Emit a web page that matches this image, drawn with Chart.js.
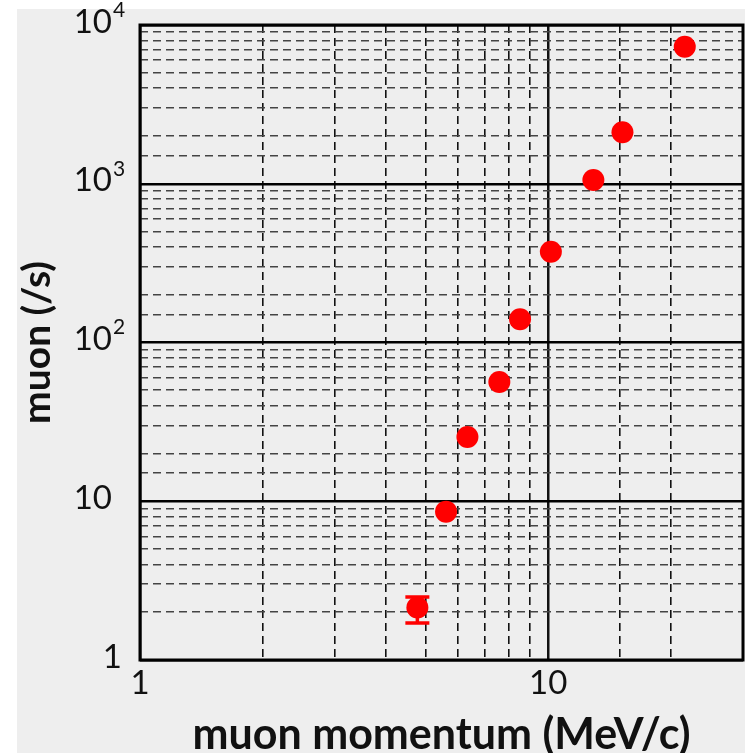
<!DOCTYPE html>
<html>
<head>
<meta charset="utf-8">
<script src="https://cdn.jsdelivr.net/npm/chart.js@4.4.1/dist/chart.umd.min.js"></script>
<style>
  html, body { margin: 0; padding: 0; background: #fff; }
  #wrap { width: 745px; height: 753px; }
</style>
</head>
<body>
<div id="wrap"><canvas id="muonChart"></canvas></div>
<script>
// muon momentum (MeV/c) and measured rate (/s)
var momentum = [4.78, 5.62, 6.34, 7.59, 8.53, 10.15, 12.9, 15.2, 21.6];
var rate = [2.14, 8.6, 25.4, 56.4, 140, 373, 1056, 2109, 7300];
var rateErrLow = [1.71, null, null, null, null, null, null, null, null];
var rateErrHigh = [2.49, null, null, null, null, null, null, null, null];

var xTickValues = [1, 10];
var xTickLabels = ['1', '10'];
var yTickValues = [1, 10, 100, 1000, 10000];
var yTickBase = ['1', '10', '10', '10', '10'];
var yTickExp = ['', '', '2', '3', '4'];

function isDecade(v) {
    var l = Math.log10(v);
    return Math.abs(l - Math.round(l)) < 1e-6;
}

var points = [];
for (var i = 0; i < momentum.length; i++) {
    points.push({x: momentum[i], y: rate[i]});
}

var panelPlugin = {
    id: 'panel',
    beforeDraw: function(chart) {
        var ctx = chart.ctx;
        ctx.save();
        ctx.fillStyle = '#eeeeee';
        ctx.fillRect(17, 9, chart.width - 17, chart.height - 9);
        ctx.restore();
    },
    beforeDatasetsDraw: function(chart) {
        var ctx = chart.ctx, a = chart.chartArea;
        ctx.save();
        ctx.strokeStyle = '#000';
        ctx.lineWidth = 3;
        ctx.strokeRect(a.left, a.top, a.right - a.left, a.bottom - a.top);
        ctx.restore();
    },
    afterDatasetsDraw: function(chart) {
        var ctx = chart.ctx;
        var xs = chart.scales.x, ys = chart.scales.y;
        ctx.save();
        ctx.strokeStyle = '#ff0000';
        ctx.lineWidth = 3.5;
        for (var i = 0; i < momentum.length; i++) {
            if (rateErrLow[i] == null) continue;
            var px = xs.getPixelForValue(momentum[i]);
            var lo = ys.getPixelForValue(rateErrLow[i]);
            var hi = ys.getPixelForValue(rateErrHigh[i]);
            ctx.beginPath();
            ctx.moveTo(px, lo); ctx.lineTo(px, hi);
            ctx.moveTo(px - 12, lo); ctx.lineTo(px + 12, lo);
            ctx.moveTo(px - 12, hi); ctx.lineTo(px + 12, hi);
            ctx.stroke();
        }
        // y tick labels with exponents
        ctx.fillStyle = '#111';
        ctx.textBaseline = 'middle';
        var left = chart.chartArea.left;
        for (var j = 0; j < yTickValues.length; j++) {
            var py = ys.getPixelForValue(yTickValues[j]);
            ctx.font = '33px Lato';
            ctx.textAlign = 'right';
            if (yTickExp[j] === '' && yTickBase[j] === '1') {
                ctx.fillText(yTickBase[j], left - 18, py - 3);
            } else {
                ctx.fillText(yTickBase[j], left - 28, py - 3);
            }
            if (yTickExp[j] !== '') {
                ctx.font = '21px Lato';
                ctx.textAlign = 'left';
                ctx.fillText(yTickExp[j], left - 27, py - 15);
            }
        }
        ctx.restore();
    }
};

var canvas = document.getElementById('muonChart');
var muonChart = new Chart(canvas, {
    type: 'scatter',
    data: {
        datasets: [{
            label: 'muon',
            data: points,
            backgroundColor: '#ff0000',
            borderWidth: 0,
            pointRadius: 11,
            pointHoverRadius: 11
        }]
    },
    options: {
        responsive: true,
        maintainAspectRatio: false,
        animation: false,
        events: [],
        layout: { autoPadding: false, padding: { top: 25, right: 2, left: 0, bottom: 0 } },
        plugins: { legend: { display: false }, tooltip: { enabled: false } },
        scales: {
            x: {
                type: 'logarithmic',
                min: 1,
                max: 30,
                afterFit: function(scale) {
                    scale.height = 93;
                    scale.paddingLeft = 0;
                    scale.paddingRight = 0;
                },
                grid: {
                    drawTicks: false,
                    color: '#111',
                    lineWidth: function(c) { return c.tick && isDecade(c.tick.value) ? 2.5 : 1.6; }
                },
                border: {
                    display: false,
                    dash: function(c) { return c.tick && isDecade(c.tick.value) ? [] : [8, 5]; }
                },
                ticks: {
                    autoSkip: false,
                    maxRotation: 0,
                    padding: 4,
                    color: '#111',
                    font: { family: 'Lato', size: 33 },
                    callback: function(v) {
                        var k = xTickValues.indexOf(v);
                        return k >= 0 ? xTickLabels[k] : '';
                    }
                },
                title: {
                    display: true,
                    text: 'muon momentum (MeV/c)',
                    color: '#111',
                    font: { family: 'Lato', size: 43, weight: 'bold', lineHeight: 0.84 },
                    padding: { top: 0, bottom: 0 }
                }
            },
            y: {
                type: 'logarithmic',
                min: 1,
                max: 10000,
                afterFit: function(scale) {
                    scale.width = 140;
                    scale.paddingTop = 0;
                    scale.paddingBottom = 0;
                },
                grid: {
                    drawTicks: false,
                    color: function(c) { return c.tick && isDecade(c.tick.value) ? '#000' : '#444'; },
                    lineWidth: function(c) { return c.tick && isDecade(c.tick.value) ? 2.5 : 1.6; }
                },
                border: {
                    display: false,
                    dash: function(c) { return c.tick && isDecade(c.tick.value) ? [] : [8, 5]; }
                },
                ticks: {
                    display: false,
                    autoSkip: false
                },
                title: {
                    display: true,
                    text: 'muon (/s)',
                    color: '#111',
                    font: { family: 'Lato', size: 39, weight: 'bold', lineHeight: 1 },
                    padding: { top: 18, bottom: 0 }
                }
            }
        }
    },
    plugins: [panelPlugin]
});
</script>
</body>
</html>
